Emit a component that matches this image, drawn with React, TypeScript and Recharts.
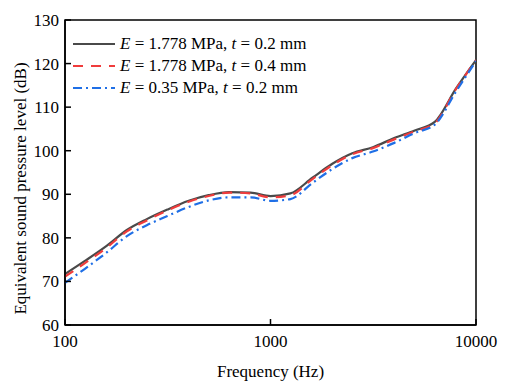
import React from "react";
import { LineChart, Line, XAxis, YAxis, ReferenceArea } from "recharts";

const freqs = [100, 125, 160, 200, 250, 315, 400, 500, 630, 800, 1000, 1250, 1600, 2000, 2500, 3150, 4000, 5000, 6300, 8000, 10000];
const splA = [71.7, 74.7, 78.2, 81.8, 84.3, 86.5, 88.5, 89.8, 90.5, 90.4, 89.6, 90.2, 93.8, 97.0, 99.4, 100.8, 102.9, 104.6, 106.6, 114.3, 120.8];
const splB = [71.1, 74.2, 77.8, 81.5, 84.0, 86.3, 88.3, 89.6, 90.4, 90.2, 89.3, 89.8, 93.5, 96.7, 99.2, 100.6, 102.6, 104.4, 106.3, 114.2, 120.8];
const splC = [69.7, 72.9, 76.7, 80.4, 82.9, 85.0, 87.1, 88.6, 89.3, 89.3, 88.5, 88.9, 92.6, 95.8, 98.3, 99.8, 101.8, 104.0, 106.0, 113.6, 120.6];

const xTicks = [100, 1000, 10000];
const xMinor = [200, 300, 400, 500, 600, 700, 800, 900, 2000, 3000, 4000, 5000, 6000, 7000, 8000, 9000];
const yTicks = [60, 70, 80, 90, 100, 110, 120, 130];
const yMinor = [62, 64, 66, 68, 72, 74, 76, 78, 82, 84, 86, 88, 92, 94, 96, 98, 102, 104, 106, 108, 112, 114, 116, 118, 122, 124, 126, 128];

const series = [
  { key: "a", E: "1.778", t: "0.2", color: "#4a4a4a", dash: undefined },
  { key: "b", E: "1.778", t: "0.4", color: "#f03c3c", dash: "10 8" },
  { key: "c", E: "0.35", t: "0.2", color: "#1f6fe6", dash: "9 4 2 4" },
];

const data = freqs.map((f, i) => ({ f, a: splA[i], b: splB[i], c: splC[i] }));

const FONT = "'Liberation Serif', 'Times New Roman', serif";

const XTick = (props: any) => {
  const { x, y, payload } = props;
  return (
    <g>
      <line x1={x} x2={x} y1={y} y2={y - 6} stroke="#000" strokeWidth={1.5} />
      <text x={x} y={y + 22} textAnchor="middle" fontSize={17} fontFamily={FONT} fill="#000">{payload.value}</text>
    </g>
  );
};
const XMinorTick = (props: any) => {
  const { x, y } = props;
  return <line x1={x} x2={x} y1={y} y2={y - 3.5} stroke="#000" strokeWidth={1.5} />;
};
const YTick = (props: any) => {
  const { x, y, payload } = props;
  return (
    <g>
      <line x1={x} x2={x + 6} y1={y} y2={y} stroke="#000" strokeWidth={1.5} />
      <text x={x - 6} y={y + 6} textAnchor="end" fontSize={17} fontFamily={FONT} fill="#000">{payload.value}</text>
    </g>
  );
};
const YMinorTick = (props: any) => {
  const { x, y } = props;
  return <line x1={x} x2={x + 3.5} y1={y} y2={y} stroke="#000" strokeWidth={1.5} />;
};

const YLabel = (props: any) => {
  const { viewBox } = props;
  const cy = viewBox.y + viewBox.height / 2 + 16;
  return (
    <text x={26} y={cy} transform={`rotate(-90 26 ${cy})`} textAnchor="middle" fontSize={17} fontFamily={FONT} fill="#000">
      Equivalent sound pressure level (dB)
    </text>
  );
};

const LegendBox = () => (
  <div style={{ position: "absolute", left: 73, top: 33, fontFamily: FONT, fontSize: 17, lineHeight: "22px" }}>
    {series.map((s) => (
      <div key={s.key} style={{ display: "flex", alignItems: "center", whiteSpace: "nowrap" }}>
        <svg width={44} height={10} style={{ marginRight: 3 }}>
          <line x1={0} x2={42} y1={5} y2={5} stroke={s.color} strokeWidth={2.2} strokeDasharray={s.dash} />
        </svg>
        <span><i>E</i> = {s.E} MPa, <i>t</i> = {s.t} mm</span>
      </div>
    ))}
  </div>
);

export default function App() {
  return (
    <div style={{ position: "absolute", left: 0, top: 0, width: 510, height: 388, background: "#fff" }}>
      <LineChart width={510} height={388} data={data} margin={{ top: 20, right: 34, bottom: 0, left: 0 }}>
        <XAxis dataKey="f" type="number" scale="log" domain={[100, 10000]} ticks={xTicks} interval={0}
          allowDataOverflow tickSize={0} tickMargin={0} tick={<XTick />} axisLine={{ stroke: "#000", strokeWidth: 1.5 }}
          height={63} label={{ value: "Frequency (Hz)", position: "insideBottom", offset: 11, fontSize: 17, fontFamily: FONT, fill: "#000" }} />
        <XAxis xAxisId="minor" dataKey="f" type="number" scale="log" domain={[100, 10000]} ticks={xMinor} interval={0}
          allowDataOverflow tickSize={0} tickMargin={0} tick={<XMinorTick />} axisLine={false} height={0} />
        <YAxis domain={[60, 130]} ticks={yTicks} interval={0} tickSize={0} tickMargin={0} tick={<YTick />}
          width={65} axisLine={{ stroke: "#000", strokeWidth: 1.5 }} label={<YLabel />} />
        <YAxis yAxisId="minor" domain={[60, 130]} ticks={yMinor} interval={0} tickSize={0} tickMargin={0} tick={<YMinorTick />}
          width={0} axisLine={false} />
        <ReferenceArea x1={100} x2={10000} y1={60} y2={130} fill="none" stroke="#000" strokeWidth={1.5} ifOverflow="visible" />
        {series.map((s) => (
          <Line key={s.key} dataKey={s.key} type="monotone" stroke={s.color} strokeWidth={2.2}
            strokeDasharray={s.dash} dot={false} isAnimationActive={false} />
        ))}
      </LineChart>
      <LegendBox />
    </div>
  );
}
